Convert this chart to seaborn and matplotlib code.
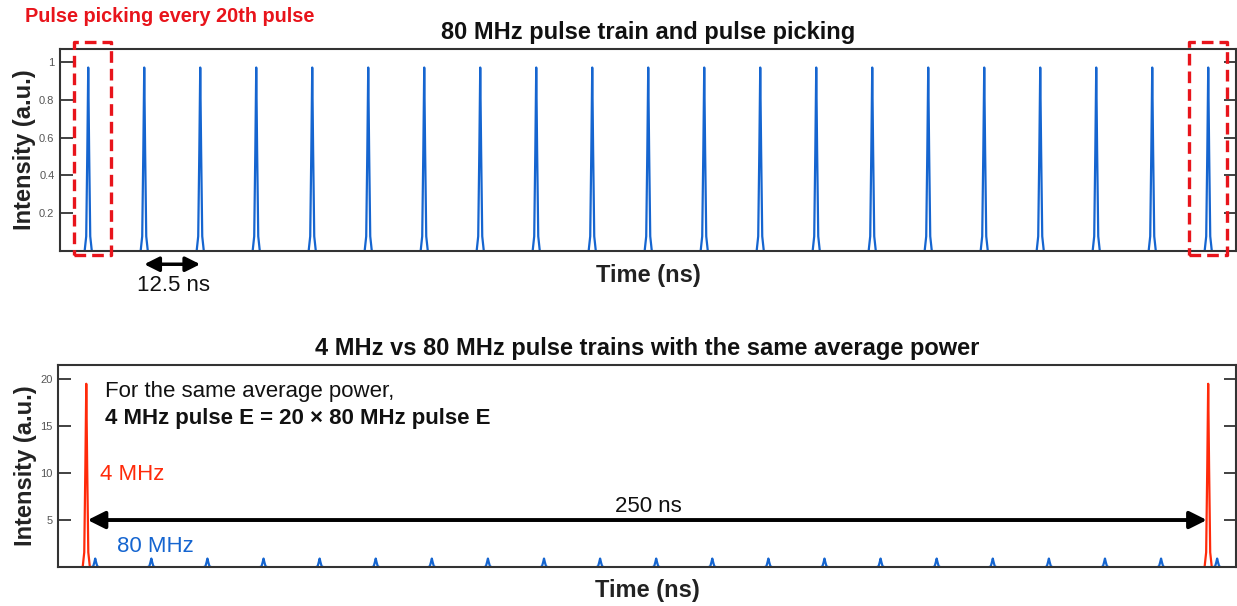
import numpy as np
import pandas as pd
import matplotlib
matplotlib.use("Agg")
import matplotlib.pyplot as plt
import seaborn as sns

# ---------------- data ----------------
# 80 MHz pulse arrival times (ns), top panel
times_80_top = [0, 12.5, 25, 37.5, 50, 62.5, 75, 87.5, 100, 112.5, 125,
                137.5, 150, 162.5, 175, 187.5, 200, 212.5, 225, 237.5, 250]
peak_80_top = 0.97

# bottom panel: 4 MHz (picked) and 80 MHz trains
times_4_bottom = [0, 250]
peak_4_bottom = 19.5
times_80_bottom = [2, 14.5, 27, 39.5, 52, 64.5, 77, 89.5, 102, 114.5, 127,
                   139.5, 152, 164.5, 177, 189.5, 202, 214.5, 227, 239.5, 252]
peak_80_bottom = 0.9

# single-pulse profile (offset in ns, relative height)
profile_offsets = [-0.8, -0.45, -0.2, 0.0, 0.2, 0.45, 0.8]
profile_shape = [0.0, 0.08, 0.55, 1.0, 0.55, 0.08, 0.0]

top_yticks = [0.2, 0.4, 0.6, 0.8, 1.0]
top_yticklabels = ["0.2", "0.4", "0.6", "0.8", "1"]
bottom_yticks = [5, 10, 15, 20]

# ---------------- styling ----------------
sns.set_theme(style="white")
plt.rcParams["font.family"] = ["Liberation Sans", "DejaVu Sans"]

BLUE = "#1565d0"
RED = "#ff2a0a"
BOXRED = "#e8141b"
SPINE = "#333333"


def pulse_frame(times, peak):
    rows = []
    for i, t in enumerate(times):
        for o, s in zip(profile_offsets, profile_shape):
            rows.append({"pulse": i, "t": t + o, "I": peak * s})
    return pd.DataFrame(rows)


fig = plt.figure(figsize=(12.37, 6.06), dpi=100)
W, H = 1237, 606
ax1 = fig.add_axes([60 / W, 1 - 251 / H, 1176 / W, 202 / H])
ax2 = fig.add_axes([58 / W, 1 - 567 / H, 1178 / W, 202 / H])

XLIM = (-6.3, 256.2)


def style_axes(ax):
    for sp in ax.spines.values():
        sp.set_visible(True)
        sp.set_color(SPINE)
        sp.set_linewidth(1.5)
    ax.set_xlim(*XLIM)
    ax.set_xticks([])
    ax.tick_params(axis="y", which="both", direction="in", length=9, width=1.3,
                   color=SPINE, left=True, right=True, labelleft=True,
                   labelright=False, labelsize=8, labelcolor="#555555", pad=4)
    ax.set_xlabel("Time (ns)", fontsize=17, fontweight="bold", labelpad=9,
                  color="#222222")
    ax.set_ylabel("Intensity (a.u.)", fontsize=17, fontweight="bold",
                  labelpad=2, color="#222222")
    ax.grid(False)


# ---------------- top panel ----------------
df_top = pulse_frame(times_80_top, peak_80_top)
sns.lineplot(data=df_top, x="t", y="I", units="pulse", estimator=None,
             sort=False, color=BLUE, lw=1.6, ax=ax1, legend=False)
style_axes(ax1)
ax1.set_ylim(0, 1.068)
ax1.set_yticks(top_yticks)
ax1.set_yticklabels(top_yticklabels)
ax1.set_title("80 MHz pulse train and pulse picking", fontsize=17,
              fontweight="bold", pad=7, color="#111111")

# dashed boxes marking picked pulses
for x0, x1 in [(-3.2, 5.0), (245.6, 254.1)]:
    ax1.plot([x0, x1, x1, x0, x0], [-0.022, -0.022, 1.103, 1.103, -0.022],
             color=BOXRED, lw=2.4, ls=(0, (3.5, 1.8)), clip_on=False, zorder=5)

ax1.annotate("", xy=(12.5, -0.07), xytext=(25.0, -0.07),
             arrowprops=dict(arrowstyle="<|-|>", color="black", lw=2.5,
                             mutation_scale=22, shrinkA=0, shrinkB=0),
             annotation_clip=False)
ax1.text(19.1, -0.18, "12.5 ns", fontsize=16, ha="center", va="center",
         color="#111111")

fig.text(25 / W, 1 - 16 / H, "Pulse picking every 20th pulse", fontsize=14.3,
         fontweight="bold", color=BOXRED, ha="left", va="center")

# ---------------- bottom panel ----------------
df_b80 = pulse_frame(times_80_bottom, peak_80_bottom)
df_b4 = pulse_frame(times_4_bottom, peak_4_bottom)
sns.lineplot(data=df_b80, x="t", y="I", units="pulse", estimator=None,
             sort=False, color=BLUE, lw=1.6, ax=ax2, legend=False)
sns.lineplot(data=df_b4, x="t", y="I", units="pulse", estimator=None,
             sort=False, color=RED, lw=1.6, ax=ax2, legend=False)
style_axes(ax2)
ax2.set_ylim(0, 21.5)
ax2.set_yticks(bottom_yticks)
ax2.set_yticklabels([str(v) for v in bottom_yticks])
ax2.set_title("4 MHz vs 80 MHz pulse trains with the same average power",
              fontsize=17, fontweight="bold", pad=7, color="#111111")

ax2.annotate("", xy=(0.3, 5), xytext=(249.7, 5),
             arrowprops=dict(arrowstyle="<|-|>", color="black", lw=2.8,
                             mutation_scale=26, shrinkA=0, shrinkB=0))
ax2.text(125.2, 6.4, "250 ns", fontsize=16, ha="center", va="center",
         color="#111111")
ax2.text(4.2, 18.65, "For the same average power,", fontsize=16, ha="left",
         va="center", color="#111111")
ax2.text(4.2, 15.8, "4 MHz pulse E = 20 \u00d7 80 MHz pulse E", fontsize=16,
         fontweight="bold", ha="left", va="center", color="#111111")
ax2.text(3.1, 9.8, "4 MHz", fontsize=16, ha="left", va="center", color=RED)
ax2.text(6.9, 2.15, "80 MHz", fontsize=16, ha="left", va="center", color=BLUE)

fig.savefig("out.png", dpi=100)
